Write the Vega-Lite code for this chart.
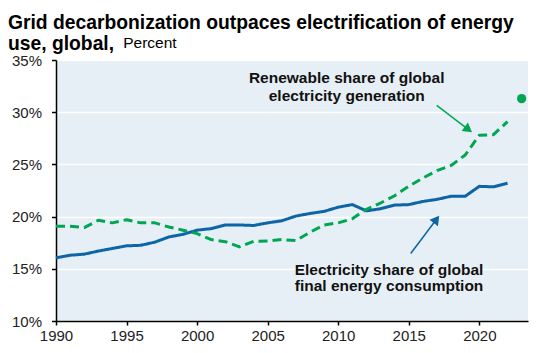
{
  "$schema": "https://vega.github.io/schema/vega-lite/v6.json",
  "autosize": {"type": "none"},
  "padding": {"left": 56, "top": 60, "right": 14, "bottom": 32},
  "width": 472,
  "height": 261,
  "background": "white",
  "config": {
    "font": "Liberation Sans",
    "view": {"fill": "#e6eff5", "stroke": null},
    "axis": {"labelFont": "Liberation Sans", "labelFontSize": 15, "labelColor": "#222222", "titleFont": "Liberation Sans"}
  },
  "title": {
    "text": ["Grid decarbonization outpaces electrification of energy", "use, global,"],
    "anchor": "start",
    "frame": "group",
    "dx": -48,
    "dy": 27,
    "offset": 8,
    "font": "Liberation Sans",
    "fontSize": 19.3,
    "fontWeight": "bold",
    "lineHeight": 21,
    "color": "#000000"
  },
  "datasets": {
    "series": [
      {"year": 1990, "series": "Electricity", "value": 16.05},
      {"year": 1991, "series": "Electricity", "value": 16.3},
      {"year": 1992, "series": "Electricity", "value": 16.4},
      {"year": 1993, "series": "Electricity", "value": 16.7},
      {"year": 1994, "series": "Electricity", "value": 16.95},
      {"year": 1995, "series": "Electricity", "value": 17.2},
      {"year": 1996, "series": "Electricity", "value": 17.25},
      {"year": 1997, "series": "Electricity", "value": 17.55},
      {"year": 1998, "series": "Electricity", "value": 18.05},
      {"year": 1999, "series": "Electricity", "value": 18.3},
      {"year": 2000, "series": "Electricity", "value": 18.7},
      {"year": 2001, "series": "Electricity", "value": 18.85},
      {"year": 2002, "series": "Electricity", "value": 19.2},
      {"year": 2003, "series": "Electricity", "value": 19.2},
      {"year": 2004, "series": "Electricity", "value": 19.15},
      {"year": 2005, "series": "Electricity", "value": 19.4},
      {"year": 2006, "series": "Electricity", "value": 19.6},
      {"year": 2007, "series": "Electricity", "value": 20.05},
      {"year": 2008, "series": "Electricity", "value": 20.3},
      {"year": 2009, "series": "Electricity", "value": 20.5},
      {"year": 2010, "series": "Electricity", "value": 20.9},
      {"year": 2011, "series": "Electricity", "value": 21.15},
      {"year": 2012, "series": "Electricity", "value": 20.55},
      {"year": 2013, "series": "Electricity", "value": 20.75},
      {"year": 2014, "series": "Electricity", "value": 21.1},
      {"year": 2015, "series": "Electricity", "value": 21.15},
      {"year": 2016, "series": "Electricity", "value": 21.45},
      {"year": 2017, "series": "Electricity", "value": 21.65},
      {"year": 2018, "series": "Electricity", "value": 21.95},
      {"year": 2019, "series": "Electricity", "value": 21.95},
      {"year": 2020, "series": "Electricity", "value": 22.9},
      {"year": 2021, "series": "Electricity", "value": 22.85},
      {"year": 2022, "series": "Electricity", "value": 23.2},
      {"year": 1990, "series": "Renewable", "value": 19.07},
      {"year": 1991, "series": "Renewable", "value": 19.07},
      {"year": 1992, "series": "Renewable", "value": 18.95},
      {"year": 1993, "series": "Renewable", "value": 19.65},
      {"year": 1994, "series": "Renewable", "value": 19.4},
      {"year": 1995, "series": "Renewable", "value": 19.7},
      {"year": 1996, "series": "Renewable", "value": 19.4},
      {"year": 1997, "series": "Renewable", "value": 19.4},
      {"year": 1998, "series": "Renewable", "value": 19.0},
      {"year": 1999, "series": "Renewable", "value": 18.7},
      {"year": 2000, "series": "Renewable", "value": 18.37},
      {"year": 2001, "series": "Renewable", "value": 17.8},
      {"year": 2002, "series": "Renewable", "value": 17.6},
      {"year": 2003, "series": "Renewable", "value": 17.1},
      {"year": 2004, "series": "Renewable", "value": 17.63},
      {"year": 2005, "series": "Renewable", "value": 17.66},
      {"year": 2006, "series": "Renewable", "value": 17.8},
      {"year": 2007, "series": "Renewable", "value": 17.7},
      {"year": 2008, "series": "Renewable", "value": 18.5},
      {"year": 2009, "series": "Renewable", "value": 19.2},
      {"year": 2010, "series": "Renewable", "value": 19.4},
      {"year": 2011, "series": "Renewable", "value": 19.8},
      {"year": 2012, "series": "Renewable", "value": 20.7},
      {"year": 2013, "series": "Renewable", "value": 21.3},
      {"year": 2014, "series": "Renewable", "value": 22.0},
      {"year": 2015, "series": "Renewable", "value": 22.9},
      {"year": 2016, "series": "Renewable", "value": 23.7},
      {"year": 2017, "series": "Renewable", "value": 24.4},
      {"year": 2018, "series": "Renewable", "value": 24.9},
      {"year": 2019, "series": "Renewable", "value": 25.9},
      {"year": 2020, "series": "Renewable", "value": 27.8},
      {"year": 2021, "series": "Renewable", "value": 27.85},
      {"year": 2022, "series": "Renewable", "value": 29.1}
    ],
    "dot": [
      {"year": 2023, "series": "Renewable", "value": 31.3}
    ],
    "arrows": [
      {"series": "Renewable", "year": 2016.98, "value": 30.66, "year2": 2019.14, "value2": 28.43},
      {"series": "Electricity", "year": 2015.14, "value": 16.46, "year2": 2016.9, "value2": 19.62}
    ],
    "labels": [
      {"series": "Renewable", "year": 2010.6, "value": 32.8, "label": "Renewable share of global"},
      {"series": "Renewable", "year": 2010.6, "value": 31.07, "label": "electricity generation"},
      {"series": "Electricity", "year": 2013.6, "value": 14.38, "label": "Electricity share of global"},
      {"series": "Electricity", "year": 2013.6, "value": 12.84, "label": "final energy consumption"}
    ]
  },
  "layer": [
    {
      "data": {"name": "series"},
      "mark": {"type": "line", "strokeWidth": 3, "strokeJoin": "round"},
      "encoding": {
        "x": {
          "field": "year", "type": "quantitative",
          "scale": {"domain": [1990, 2023.45], "nice": false, "zero": false},
          "axis": {
            "title": null, "values": [1990, 1995, 2000, 2005, 2010, 2015, 2020], "format": "d",
            "grid": false, "domainColor": "#000000", "domainWidth": 1.5, "tickColor": "#000000",
            "tickWidth": 1.5, "tickSize": 4, "labelPadding": 3, "labelFlush": false
          }
        },
        "y": {
          "field": "value", "type": "quantitative",
          "scale": {"domain": [10, 35], "nice": false, "zero": false},
          "axis": {
            "title": "Percent", "titleAngle": 0, "titleAlign": "left", "titleBaseline": "alphabetic",
            "titleX": 66.7, "titleY": -13, "titleFontSize": 15.5, "titleFontWeight": "normal", "titleColor": "#000000",
            "values": [10, 15, 20, 25, 30, 35], "labelExpr": "datum.value + '%'",
            "grid": true, "gridColor": "#ffffff", "gridWidth": 1.5,
            "domainColor": "#000000", "domainWidth": 1.5, "tickColor": "#000000", "tickWidth": 1.5,
            "tickSize": 4.5, "labelPadding": 10
          }
        },
        "color": {"field": "series", "type": "nominal", "scale": {"domain": ["Electricity", "Renewable"], "range": ["#0b65a6", "#00a651"]}, "legend": null},
        "strokeDash": {"field": "series", "type": "nominal", "scale": {"domain": ["Electricity", "Renewable"], "range": [[1, 0], [9, 5]]}, "legend": null}
      }
    },
    {
      "data": {"name": "dot"},
      "mark": {"type": "point", "filled": true, "size": 85, "opacity": 1, "color": "#00a651"},
      "encoding": {
        "x": {"field": "year", "type": "quantitative"},
        "y": {"field": "value", "type": "quantitative"}
      }
    },
    {
      "data": {"name": "arrows"},
      "mark": {"type": "rule", "strokeWidth": 1.5},
      "encoding": {
        "x": {"field": "year", "type": "quantitative"},
        "y": {"field": "value", "type": "quantitative"},
        "x2": {"field": "year2"},
        "y2": {"field": "value2"},
        "color": {"field": "series", "type": "nominal", "legend": null}
      }
    },
    {
      "data": {"name": "arrows"},
      "transform": [{"filter": "datum.series === 'Renewable'"}],
      "mark": {"type": "point", "shape": "triangle", "filled": true, "size": 110, "opacity": 1, "angle": 127, "color": "#00a651"},
      "encoding": {
        "x": {"field": "year2", "type": "quantitative"},
        "y": {"field": "value2", "type": "quantitative"}
      }
    },
    {
      "data": {"name": "arrows"},
      "transform": [{"filter": "datum.series === 'Electricity'"}],
      "mark": {"type": "point", "shape": "triangle", "filled": true, "size": 110, "opacity": 1, "angle": 37, "color": "#0b65a6"},
      "encoding": {
        "x": {"field": "year2", "type": "quantitative"},
        "y": {"field": "value2", "type": "quantitative"}
      }
    },
    {
      "data": {"name": "labels"},
      "mark": {"type": "text", "font": "Liberation Sans", "fontSize": 15.5, "fontWeight": "bold", "align": "center", "baseline": "alphabetic", "color": "#111111"},
      "encoding": {
        "x": {"field": "year", "type": "quantitative"},
        "y": {"field": "value", "type": "quantitative"},
        "text": {"field": "label"}
      }
    }
  ]
}
